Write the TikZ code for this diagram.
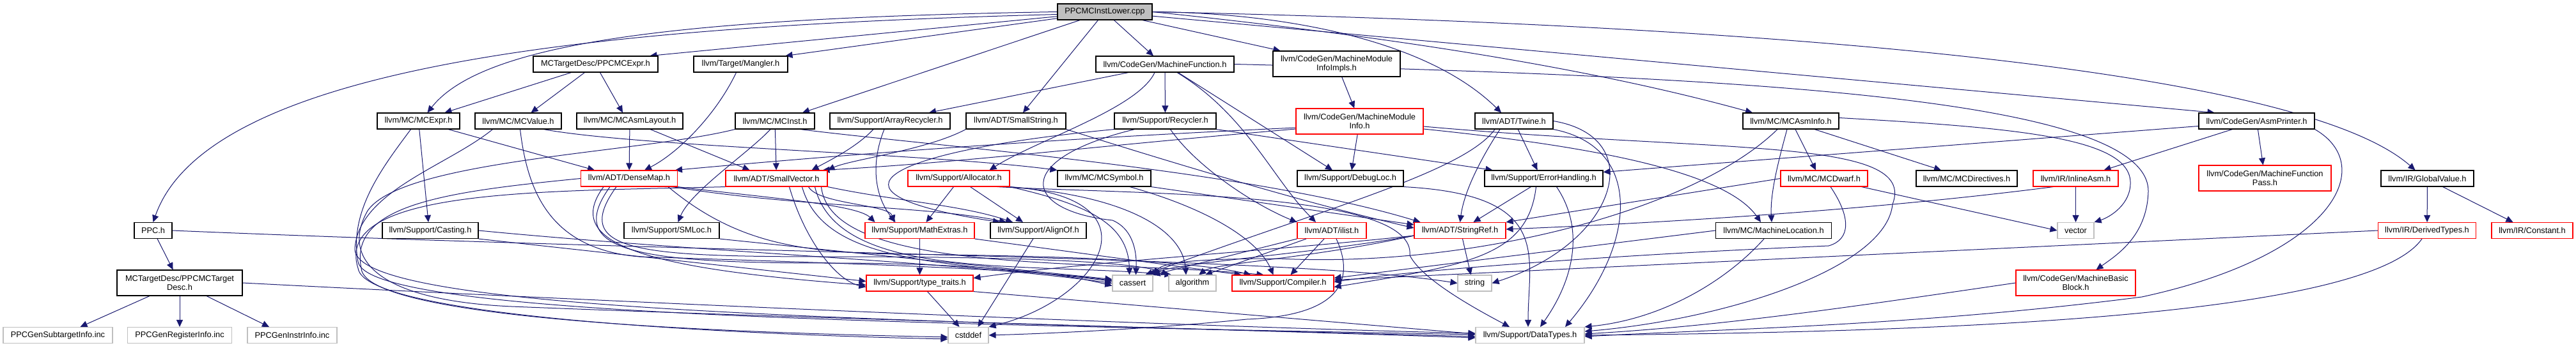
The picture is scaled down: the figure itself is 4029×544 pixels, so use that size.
\documentclass[tikz,border=0pt]{standalone}
\usepackage{fontspec}
\setmainfont{Liberation Sans}
\usetikzlibrary{arrows.meta}
\definecolor{edgeblue}{HTML}{191970}
\definecolor{graybox}{HTML}{BFBFBF}
\pgfdeclarelayer{back}
\pgfdeclarelayer{edges}
\pgfsetlayers{back,edges,main}
\begin{document}
\begin{tikzpicture}[x=1pt,y=1pt,
  nb/.style={draw=black, line width=1.1pt, inner sep=0pt, minimum height=25pt, align=center, font=\fontsize{12.8}{14.5}\selectfont, fill=white},
  nr/.style={nb, draw=red},
  ng/.style={nb, draw=graybox},
  dep/.style={draw=edgeblue, line width=1pt, -{Triangle[length=11pt,width=10pt]}}]
\begin{pgfonlayer}{back}
\fill[white] (0,0) rectangle (4029,-544);
\end{pgfonlayer}
\useasboundingbox (0,0) rectangle (4029,-544);
% nodes
\node[nb,fill=graybox,minimum width=148pt] (root) at (1728,-18.5) {PPCMCInstLower.cpp};
\node[nb,minimum width=59pt] (ppc) at (239.5,-361) {PPC.h};
\node[nb,minimum width=196pt,minimum height=40pt] (ppcdesc) at (281,-443) {MCTargetDesc/PPCMCTarget\\Desc.h};
\node[ng,minimum width=171pt] (subt) at (90.5,-525) {PPCGenSubtargetInfo.inc};
\node[ng,minimum width=163pt] (regi) at (281,-525) {PPCGenRegisterInfo.inc};
\node[ng,minimum width=140pt] (instr) at (457,-525) {PPCGenInstrInfo.inc};
\node[nb,minimum width=129pt] (mcexpr) at (654.5,-189.5) {llvm/MC/MCExpr.h};
\node[nb,minimum width=195pt] (ppcmcexpr) at (931.5,-100.5) {MCTargetDesc/PPCMCExpr.h};
\node[nb,minimum width=147pt] (mangler) at (1158.5,-100.5) {llvm/Target/Mangler.h};
\node[nb,minimum width=135pt] (mcvalue) at (810.5,-189.5) {llvm/MC/MCValue.h};
\node[nb,minimum width=166pt] (layout) at (985,-189.5) {llvm/MC/MCAsmLayout.h};
\node[nb,minimum width=124pt] (mcinst) at (1212,-189.5) {llvm/MC/MCInst.h};
\node[nb,minimum width=188pt] (arec) at (1392,-189.5) {llvm/Support/ArrayRecycler.h};
\node[nb,minimum width=156pt] (sstr) at (1589,-189.5) {llvm/ADT/SmallString.h};
\node[nb,minimum width=216pt] (mfunc) at (1822,-100.5) {llvm/CodeGen/MachineFunction.h};
\node[nb,minimum width=159pt] (recyc) at (1822.5,-189.5) {llvm/Support/Recycler.h};
\node[nb,minimum width=199pt,minimum height=40pt] (mmiimpl) at (2090.5,-100) {llvm/CodeGen/MachineModule\\InfoImpls.h};
\node[nr,minimum width=199pt,minimum height=40pt] (mmi) at (2126.5,-190) {llvm/CodeGen/MachineModule\\Info.h};
\node[nb,minimum width=122pt] (twine) at (2368,-189.5) {llvm/ADT/Twine.h};
\node[nb,minimum width=150pt] (asminfo) at (2801,-189.5) {llvm/MC/MCAsmInfo.h};
\node[nb,minimum width=181pt] (asmprn) at (3529.5,-189.5) {llvm/CodeGen/AsmPrinter.h};
\node[nb,minimum width=145pt] (gval) at (3796.5,-279.5) {llvm/IR/GlobalValue.h};
\node[nr,minimum width=151pt] (dmap) at (984,-279.5) {llvm/ADT/DenseMap.h};
\node[nr,minimum width=159pt] (svec) at (1214.5,-279.5) {llvm/ADT/SmallVector.h};
\node[nr,minimum width=159pt] (alloc) at (1499.5,-279.5) {llvm/Support/Allocator.h};
\node[nb,minimum width=146pt] (mcsym) at (1727,-279.5) {llvm/MC/MCSymbol.h};
\node[nb,minimum width=166pt] (dloc) at (2112,-279.5) {llvm/Support/DebugLoc.h};
\node[nb,minimum width=185pt] (errh) at (2414.5,-279.5) {llvm/Support/ErrorHandling.h};
\node[nr,minimum width=136pt] (dwarf) at (2853,-279.5) {llvm/MC/MCDwarf.h};
\node[nb,minimum width=158pt] (mcdir) at (3076,-279.5) {llvm/MC/MCDirectives.h};
\node[nr,minimum width=133pt] (iasm) at (3246.5,-279.5) {llvm/IR/InlineAsm.h};
\node[nr,minimum width=207pt,minimum height=40pt] (mfpass) at (3542.5,-279) {llvm/CodeGen/MachineFunction\\Pass.h};
\node[nb,minimum width=150pt] (casting) at (673,-361) {llvm/Support/Casting.h};
\node[nb,minimum width=149pt] (smloc) at (1050.5,-361) {llvm/Support/SMLoc.h};
\node[nr,minimum width=171pt] (mathx) at (1438.5,-361) {llvm/Support/MathExtras.h};
\node[nb,minimum width=150pt] (alignof) at (1624,-361) {llvm/Support/AlignOf.h};
\node[nr,minimum width=108pt] (ilist) at (2083,-361) {llvm/ADT/ilist.h};
\node[nr,minimum width=143pt] (sref) at (2283.5,-361) {llvm/ADT/StringRef.h};
\node[nb,minimum width=181pt] (mloc) at (2774,-361) {llvm/MC/MachineLocation.h};
\node[ng,minimum width=57pt] (vector) at (3246.5,-361) {vector};
\node[nr,minimum width=153pt] (dtypes) at (3796,-361) {llvm/IR/DerivedTypes.h};
\node[nr,minimum width=127pt] (constant) at (3960.5,-361) {llvm/IR/Constant.h};
\node[nr,minimum width=167pt] (ttraits) at (1438.5,-443.5) {llvm/Support/type\_traits.h};
\node[ng,minimum width=63pt] (cassert) at (1771.5,-443.5) {cassert};
\node[ng,minimum width=74pt] (algo) at (1865,-443.5) {algorithm};
\node[nr,minimum width=159pt] (compiler) at (2006.5,-443.5) {llvm/Support/Compiler.h};
\node[ng,minimum width=53pt] (string) at (2306.5,-443.5) {string};
\node[nr,minimum width=187pt,minimum height=40pt] (mbb) at (3246.5,-443) {llvm/CodeGen/MachineBasic\\Block.h};
\node[ng,minimum width=63pt] (cstddef) at (1514.5,-525) {cstddef};
\node[ng,minimum width=170pt] (datatypes) at (2393,-525) {llvm/Support/DataTypes.h};
\begin{pgfonlayer}{edges}
% root
\draw[dep] ([yshift=-4pt]root.west) .. controls (1000,-40) and (330,-90) .. (ppc.north);
\draw[dep] (root.west) .. controls (1100,-28) and (760,-60) .. ([xshift=14pt]mcexpr.north);
\draw[dep] (root) -- ([xshift=85pt]ppcmcexpr.north);
\draw[dep] (root) -- ([xshift=70pt]mangler.north);
\draw[dep] (root) -- ([xshift=43pt]mcinst.north);
\draw[dep] (root) -- ([xshift=11pt]sstr.north);
\draw[dep] (root) -- ([xshift=-18pt]mfunc.north);
\draw[dep] (root) -- ([xshift=-88pt]mmiimpl.north);
\draw[dep] (root.east) .. controls (2000,-20) and (2230,-60) .. ([xshift=-20pt]twine.north);
\draw[dep] (root.east) .. controls (2200,-60) and (2500,-110) .. ([xshift=-60pt]asminfo.north);
\draw[dep] (root) -- ([xshift=-66pt]asmprn.north);
\draw[dep] (root.east) .. controls (2800,-40) and (3600,-110) .. ([xshift=-19pt]gval.north);
% PPC.h
\draw[dep] (ppc) -- (ppcdesc);
\draw[dep] (ppc.east) .. controls (1200,-400) and (2000,-400) .. (string.west);
% PPCMCTargetDesc.h
\draw[dep] ([xshift=-47pt]ppcdesc.south) -- ([xshift=35pt]subt.north);
\draw[dep] (ppcdesc) -- (regi);
\draw[dep] ([xshift=42pt]ppcdesc.south) -- ([xshift=-36pt]instr.north);
\draw[dep] (ppcdesc.east) .. controls (900,-470) and (1800,-510) .. ([yshift=3pt]datatypes.west);
% MCExpr.h
\draw[dep] (mcexpr) -- ([xshift=-54pt]dmap.north);
\draw[dep] (mcexpr) -- ([xshift=-3pt]casting.north);
\draw[dep] ([xshift=-12pt]mcexpr.south) .. controls (600,-260) and (545,-330) .. (560,-410) .. controls (575,-490) and (1300,-505) .. ([yshift=1pt]datatypes.west);
% PPCMCExpr.h
\draw[dep] ([xshift=-38pt]ppcmcexpr.south) -- ([xshift=41pt]mcexpr.north);
\draw[dep] ([xshift=-17pt]ppcmcexpr.south) -- ([xshift=20pt]mcvalue.north);
\draw[dep] ([xshift=7pt]ppcmcexpr.south) -- ([xshift=-11pt]layout.north);
% Mangler.h
\draw[dep] ([xshift=-7pt]mangler.south) .. controls (1120,-180) and (1060,-240) .. ([xshift=24pt]dmap.north);
% MCValue.h
\draw[dep] ([xshift=40pt]mcvalue.south) .. controls (1000,-230) and (1450,-240) .. (mcsym.north west);
\draw[dep] ([xshift=-40pt]mcvalue.south) .. controls (700,-260) and (560,-300) .. (555,-390) .. controls (555,-485) and (1300,-500) .. ([yshift=-2pt]datatypes.west);
\draw[dep] ([xshift=3pt]mcvalue.south) .. controls (825,-300) and (860,-390) .. (1000,-402) .. controls (1300,-412) and (1600,-420) .. ([yshift=4pt]cassert.west);
% MCAsmLayout.h
\draw[dep] (layout) -- (dmap);
\draw[dep] ([xshift=32pt]layout.south) -- ([xshift=-42pt]svec.north);
% MCInst.h
\draw[dep] (mcinst) -- (svec);
\draw[dep] ([xshift=-7pt]mcinst.south) .. controls (1170,-240) and (1080,-300) .. ([xshift=10pt]smloc.north);
\draw[dep] ([xshift=40pt]mcinst.south) .. controls (1450,-228) and (1950,-265) .. ([xshift=-62pt]sref.north);
\draw[dep] (mcinst.south west) .. controls (1000,-240) and (630,-250) .. (575,-330) .. controls (535,-400) and (580,-470) .. (800,-480) .. controls (1300,-500) and (1900,-515) .. ([yshift=-4pt]datatypes.west);
% ArrayRecycler.h
\draw[dep] ([xshift=-26pt]arec.south) .. controls (1340,-230) and (1300,-250) .. ([xshift=55pt]svec.north);
\draw[dep] ([xshift=-9pt]arec.south) .. controls (1360,-260) and (1370,-310) .. ([xshift=-38pt]mathx.north);
% SmallString.h
\draw[dep] (sstr.south west) .. controls (1450,-235) and (1330,-250) .. (svec.north east);
\draw[dep] (sstr.south east) .. controls (1850,-260) and (2050,-320) .. ([yshift=4pt]sref.west);
% MachineFunction.h
\draw[dep] ([xshift=-57pt]mfunc.south) -- ([xshift=61pt]arec.north);
\draw[dep] ([xshift=-16pt]mfunc.south) .. controls (1780,-170) and (1620,-220) .. ([xshift=48pt]alloc.north);
\draw[dep] (mfunc) -- (recyc);
\draw[dep] ([xshift=19pt]mfunc.south) .. controls (1950,-180) and (1990,-280) .. ([xshift=-25pt]ilist.north);
\draw[dep] (mfunc) -- ([xshift=-28pt]dloc.north);
\draw[dep] (mfunc.east) .. controls (2700,-120) and (3362,-150) .. (3360,-300) .. controls (3358,-370) and (3310,-400) .. ([xshift=32pt]mbb.north);
% Recycler.h
\draw[dep] ([xshift=8pt]recyc.south) .. controls (1870,-260) and (1960,-320) .. (ilist.north west);
\draw[dep] (recyc.south west) .. controls (1400,-235) and (1250,-300) .. ([xshift=-60pt]alignof.north);
\draw[dep] (recyc.south east) -- ([xshift=-80pt]errh.north);
\draw[dep] ([xshift=-48pt]recyc.south) .. controls (1580,-250) and (1600,-330) .. (1740,-345) .. controls (1775,-360) and (1778,-400) .. ([xshift=5pt]cassert.north);
% MachineModuleInfoImpls.h
\draw[dep] (mmiimpl) -- (mmi);
% MachineModuleInfo.h
\draw[dep] (mmi) -- (dloc);
\draw[dep] ([yshift=-10pt]mmi.west) .. controls (1700,-215) and (1400,-235) .. ([xshift=72pt]dmap.north);
\draw[dep] ([yshift=-12pt]mmi.west) .. controls (1700,-230) and (1500,-255) .. ([xshift=-8pt]svec.north east);
\draw[dep] ([yshift=-12pt]mmi.east) .. controls (2500,-230) and (2700,-270) .. ([xshift=-20pt]mloc.north);
\draw[dep] ([yshift=-8pt]mmi.east) .. controls (2700,-240) and (3000,-215) .. (2960,-320) .. controls (2950,-420) and (2700,-500) .. ([yshift=6pt]datatypes.east);
% Twine.h
\draw[dep] ([xshift=-22pt]twine.south) .. controls (2315,-250) and (2290,-300) .. (sref.north);
\draw[dep] (twine) -- ([xshift=-10pt]errh.north);
\draw[dep] ([xshift=-30pt]twine.south) .. controls (2290,-270) and (2060,-330) .. ([xshift=20pt]cassert.north);
\draw[dep] (twine.south east) .. controls (2570,-230) and (2560,-380) .. ([xshift=55pt]datatypes.north);
\draw[dep] (twine.east) .. controls (2580,-215) and (2530,-380) .. (string.east);
% MCAsmInfo.h
\draw[dep] ([xshift=-6pt]asminfo.south) .. controls (2785,-240) and (2768,-300) .. ([xshift=-3pt]mloc.north);
\draw[dep] ([xshift=7pt]asminfo.south) -- ([xshift=-13pt]dwarf.north);
\draw[dep] ([xshift=37pt]asminfo.south) -- ([xshift=-40pt]mcdir.north);
\draw[dep] ([yshift=5pt]asminfo.east) .. controls (3150,-200) and (3330,-215) .. (3332,-285) .. controls (3333,-320) and (3300,-340) .. (vector.north east);
\draw[dep] ([xshift=-21pt]asminfo.south) .. controls (2650,-330) and (2300,-420) .. (2000,-405) .. controls (1880,-405) and (1820,-410) .. (cassert.north east);
% AsmPrinter.h
\draw[dep] (asmprn) -- (mfpass);
\draw[dep] ([xshift=-38pt]asmprn.south) -- ([xshift=44pt]iasm.north);
\draw[dep] ([yshift=-8pt]asmprn.west) -- ([yshift=10pt]errh.east);
\draw[dep] (asmprn.south east) .. controls (3720,-260) and (3650,-400) .. (3350,-465) .. controls (3000,-510) and (2700,-515) .. ([yshift=-2pt]datatypes.east);
% GlobalValue.h
\draw[dep] (gval) -- (dtypes);
\draw[dep] ([xshift=24pt]gval.south) -- ([xshift=-30pt]constant.north);
% DerivedTypes.h
\draw[dep] (dtypes.west) -- ([yshift=5pt]compiler.east);
\draw[dep] ([xshift=-8pt]dtypes.south) .. controls (3700,-500) and (3000,-520) .. (datatypes.east);
% MCDwarf.h
\draw[dep] (dwarf.west) -- (sref.north east);
\draw[dep] ([xshift=10pt]dwarf.south) .. controls (2895,-340) and (2895,-375) .. (2860,-385) .. controls (2500,-400) and (2200,-425) .. ([yshift=2pt]compiler.east);
\draw[dep] (dwarf) -- (vector.west);
% MachineLocation.h
\draw[dep] (mloc.west) -- ([yshift=8pt]compiler.east);
\draw[dep] ([xshift=-15pt]mloc.south) .. controls (2700,-440) and (2600,-500) .. (datatypes.north east);
% InlineAsm.h
\draw[dep] (iasm) -- (vector);
\draw[dep] ([xshift=-35pt]iasm.south) .. controls (3000,-320) and (2700,-345) .. ([yshift=2pt]sref.east);
% MachineBasicBlock.h
\draw[dep] (mbb.west) .. controls (2900,-480) and (2700,-510) .. ([yshift=2pt]datatypes.east);
% Casting.h
\draw[dep] (casting.south east) -- ([yshift=3pt]ttraits.west);
\draw[dep] (casting.east) .. controls (1100,-395) and (1500,-410) .. (cassert.west);
% SMLoc.h
\draw[dep] (smloc.south east) -- ([yshift=6pt]cassert.west);
% AlignOf.h
\draw[dep] (alignof) -- ([xshift=15pt]cstddef.north);
% MCSymbol.h
\draw[dep] (mcsym.south east) -- ([yshift=-4pt]sref.north west);
\draw[dep] ([xshift=40pt]mcsym.south) .. controls (1900,-330) and (1970,-380) .. ([xshift=-15pt]compiler.north);
% Allocator.h
\draw[dep] ([xshift=-8pt]alloc.south) -- ([xshift=10pt]mathx.north);
\draw[dep] ([xshift=18pt]alloc.south) -- ([xshift=-24pt]alignof.north);
\draw[dep] (alloc.south east) .. controls (1700,-320) and (1765,-350) .. ([xshift=-5pt]cassert.north);
\draw[dep] ([xshift=-6pt]alloc.south east) .. controls (1760,-305) and (1850,-360) .. ([xshift=-10pt]algo.north);
\draw[dep] (alloc.south east) .. controls (1820,-310) and (1720,-470) .. (cstddef.north east);
\draw[dep] ([xshift=-20pt]alloc.south east) .. controls (1800,-305) and (2215,-300) .. (2205,-400) .. controls (2225,-440) and (2320,-490) .. ([xshift=-32pt]datatypes.north);
% MathExtras.h
\draw[dep] (mathx) -- (ttraits);
\draw[dep] (mathx.south east) -- ([xshift=-65pt]compiler.north);
% type_traits.h
\draw[dep] ([xshift=12pt]ttraits.south) -- ([xshift=-14pt]cstddef.north);
\draw[dep] (ttraits.south east) -- ([yshift=2pt]datatypes.west);
% ilist.h
\draw[dep] ([xshift=-12pt]ilist.south) -- ([xshift=12pt]compiler.north);
\draw[dep] ([xshift=7pt]ilist.south) .. controls (2125,-450) and (2080,-495) .. (1950,-500) .. controls (1800,-515) and (1650,-522) .. (cstddef.east);
\draw[dep] (ilist.south west) -- (cassert.north east);
\draw[dep] ([xshift=-40pt]ilist.south) -- ([xshift=20pt]algo.north);
% StringRef.h
\draw[dep] ([xshift=4pt]sref.south) -- ([xshift=-6pt]string.north);
\draw[dep] ([yshift=-8pt]sref.west) .. controls (2000,-392) and (1700,-410) .. ([yshift=8pt]ttraits.east);
\draw[dep] ([yshift=-8pt]sref.west) .. controls (2050,-398) and (1850,-410) .. ([xshift=-8pt]cassert.north east);
\draw[dep] ([yshift=-8pt]sref.west) .. controls (2050,-405) and (1900,-412) .. ([xshift=10pt]algo.north);
% ErrorHandling.h
\draw[dep] ([xshift=-20pt]errh.south) -- ([xshift=21pt]sref.north);
\draw[dep] ([xshift=-12pt]errh.south) .. controls (2390,-400) and (2300,-415) .. ([yshift=-6pt]compiler.east);
\draw[dep] ([xshift=20pt]errh.south) .. controls (2480,-360) and (2460,-440) .. ([xshift=16pt]datatypes.north);
% DebugLoc.h
\draw[dep] (dloc.south east) .. controls (2430,-305) and (2390,-400) .. ([xshift=-3pt]datatypes.north);
% DenseMap.h
\draw[dep] (dmap.south east) .. controls (1200,-310) and (1340,-320) .. ([xshift=-70pt]mathx.north);
\draw[dep] ([xshift=-8pt]dmap.south east) .. controls (1250,-325) and (1450,-322) .. ([xshift=-50pt]alignof.north);
\draw[dep] ([xshift=-40pt]dmap.south) .. controls (880,-380) and (1000,-420) .. ([yshift=-3pt]ttraits.west);
\draw[dep] ([xshift=-30pt]dmap.south) .. controls (880,-395) and (1000,-412) .. (1300,-412) .. controls (1500,-412) and (1650,-425) .. ([yshift=-4pt]cassert.west);
\draw[dep] ([xshift=-20pt]dmap.south) .. controls (890,-395) and (1000,-402) .. (1300,-402) .. controls (1600,-402) and (1780,-410) .. (algo.north west);
\draw[dep] ([xshift=-15pt]dmap.south east) .. controls (1150,-380) and (1250,-395) .. (1400,-398) .. controls (1600,-400) and (1850,-405) .. ([xshift=-50pt]compiler.north);
\draw[dep] (dmap.west) .. controls (700,-300) and (545,-320) .. (565,-420) .. controls (570,-505) and (1200,-522) .. ([yshift=-3pt]cstddef.west);
% SmallVector.h
\draw[dep] ([xshift=50pt]svec.south) .. controls (1280,-320) and (1390,-320) .. ([xshift=-40pt]mathx.north);
\draw[dep] (svec.south east) .. controls (1400,-315) and (1500,-320) .. ([xshift=-40pt]alignof.north);
\draw[dep] ([xshift=20pt]svec.south) .. controls (1260,-380) and (1310,-440) .. ([yshift=-6pt]ttraits.west);
\draw[dep] ([xshift=40pt]svec.south) .. controls (1290,-420) and (1500,-410) .. ([yshift=3pt]cassert.west);
\draw[dep] ([xshift=60pt]svec.south) .. controls (1310,-440) and (1600,-410) .. ([xshift=5pt]algo.north west);
\draw[dep] ([xshift=70pt]svec.south) .. controls (1300,-430) and (1700,-405) .. ([xshift=-30pt]compiler.north);
\draw[dep] (svec.south west) .. controls (850,-300) and (520,-295) .. (560,-420) .. controls (570,-500) and (1200,-525) .. ([yshift=-6pt]cstddef.west);
\end{pgfonlayer}
\end{tikzpicture}
\end{document}
